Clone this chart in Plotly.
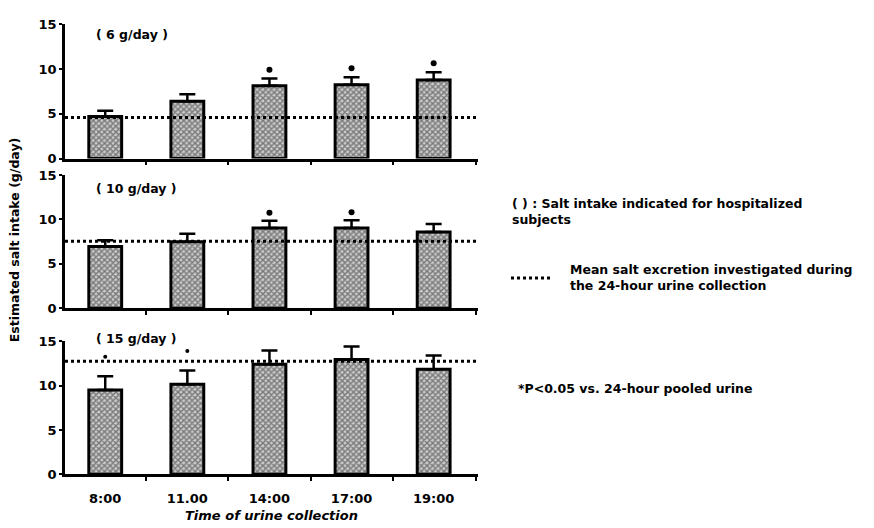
import plotly.graph_objects as go

W, H = 874, 528

times = ["8:00", "11.00", "14:00", "17:00", "19:00"]
panel_labels = ["( 6 g/day )", "( 10 g/day )", "( 15 g/day )"]

means_6 = [4.7, 6.4, 8.15, 8.25, 8.8]
sem_6 = [0.65, 0.8, 0.8, 0.85, 0.85]
mean24_6 = 4.6
sig_6 = [0, 0, 1, 1, 1]

means_10 = [6.95, 7.5, 9.05, 9.05, 8.6]
sem_10 = [0.7, 0.9, 0.8, 0.85, 0.9]
mean24_10 = 7.55
sig_10 = [0, 0, 1, 1, 0]

means_15 = [9.5, 10.15, 12.4, 12.95, 11.85]
sem_15 = [1.55, 1.55, 1.55, 1.45, 1.55]
mean24_15 = 12.75
sig_15 = [1, 1, 0, 0, 0]

yticks = [0, 5, 10, 15]

FONT = "DejaVu Sans"

def px_y(p):
    return 1 - p / H

def px_x(p):
    return p / W

fig = go.Figure()

panels = [
    (means_6, sem_6, mean24_6, sig_6, 18, 156, 1.0, 28),
    (means_10, sem_10, mean24_10, sig_10, 173, 310, 0.9, 187),
    (means_15, sem_15, mean24_15, sig_15, 344, 481, 2.2, 341),
]

xpos = list(range(len(times)))
xr = [-0.49, 4.54]

for i, (m, s, ml, sig, top, bot, off, lab_y) in enumerate(panels):
    n = i + 1
    xa = "x" if n == 1 else f"x{n}"
    ya = "y" if n == 1 else f"y{n}"
    fig.add_trace(go.Bar(
        x=xpos, y=m, width=0.4, xaxis=xa, yaxis=ya,
        marker=dict(
            color="#a0a0a0",
            pattern=dict(shape="x", fgcolor="#262626", bgcolor="#cccccc", size=4, solidity=0.6),
            line=dict(color="black", width=3),
        ),
        error_y=dict(type="data", symmetric=False, array=s, arrayminus=[0] * len(s),
                     color="black", thickness=2.5, width=8),
        showlegend=False,
    ))
    fig.add_trace(go.Scatter(
        x=xr, y=[ml, ml], mode="lines", xaxis=xa, yaxis=ya,
        line=dict(color="black", width=3, dash="dot"), showlegend=False,
    ))
    sx = [x for x, f in zip(xpos, sig) if f]
    sy = [mm + ss + off for mm, ss, f in zip(m, s, sig) if f]
    fig.add_trace(go.Scatter(
        x=sx, y=sy, mode="markers", xaxis=xa, yaxis=ya,
        marker=dict(color="black", size=6 if n < 3 else 4, symbol="circle"),
        showlegend=False,
    ))
    xkey = "xaxis" if n == 1 else f"xaxis{n}"
    ykey = "yaxis" if n == 1 else f"yaxis{n}"
    fig.layout[xkey] = dict(
        domain=[px_x(65), px_x(478)], anchor=ya, range=xr,
        showline=True, linecolor="black", linewidth=2.5,
        showgrid=False, zeroline=False,
        tickmode="array", tickvals=xpos,
        ticktext=times if n == 3 else [""] * len(times),
        ticks="", ticklabelstandoff=10,
        minor=dict(tickmode="array", tickvals=[0.5, 1.5, 2.5, 3.5, 4.52],
                   ticks="outside", ticklen=4, tickwidth=2, tickcolor="black"),
        tickfont=dict(family=FONT, size=13, color="black", weight="bold"),
    )
    fig.layout[ykey] = dict(
        domain=[px_y(bot), px_y(top)], anchor=xa, range=[0, 15],
        showline=True, linecolor="black", linewidth=2.5,
        showgrid=False, zeroline=False,
        tickmode="array", tickvals=yticks, ticks="outside", ticklen=3, tickwidth=2,
        tickcolor="black",
        tickfont=dict(family=FONT, size=13, color="black", weight="bold"),
    )
    fig.add_annotation(
        text=panel_labels[i], xref="paper", yref="paper",
        x=px_x(94), y=px_y(lab_y), xanchor="left", yanchor="middle", showarrow=False,
        font=dict(family=FONT, size=12.5, color="black", weight="bold"),
    )

fig.add_annotation(
    text="Estimated salt intake (g/day)", xref="paper", yref="paper",
    x=px_x(14), y=px_y(240), textangle=-90, showarrow=False,
    xanchor="center", yanchor="middle",
    font=dict(family=FONT, size=12.5, color="black", weight="bold"),
)
fig.add_annotation(
    text="<i>Time of urine collection</i>", xref="paper", yref="paper",
    x=px_x(271), y=0, showarrow=False, xanchor="center", yanchor="bottom",
    yshift=-4, borderpad=0,
    font=dict(family=FONT, size=13, color="black", weight="bold"),
)

right_font = dict(family=FONT, size=12.5, color="black", weight="bold")
fig.add_annotation(
    text="( ) : Salt intake indicated for hospitalized<br>subjects", xref="paper", yref="paper",
    x=px_x(510), y=px_y(210), xanchor="left", yanchor="middle", align="left",
    showarrow=False, font=right_font,
)
fig.add_annotation(
    text="Mean salt excretion investigated during<br>the 24-hour urine collection",
    xref="paper", yref="paper",
    x=px_x(568), y=px_y(278), xanchor="left", yanchor="middle", align="left",
    showarrow=False, font=right_font,
)
fig.add_annotation(
    text="*P<0.05 vs. 24-hour pooled urine", xref="paper", yref="paper",
    x=px_x(516), y=px_y(393), xanchor="left", yanchor="middle", align="left",
    showarrow=False, font=right_font,
)
fig.add_shape(
    type="line", xref="paper", yref="paper",
    x0=px_x(511), x1=px_x(552), y0=px_y(279), y1=px_y(279),
    line=dict(color="black", width=3, dash="dot"),
)

fig.update_layout(
    width=W, height=H,
    margin=dict(l=0, r=0, t=0, b=0),
    paper_bgcolor="white", plot_bgcolor="white",
    barmode="overlay",
)

fig.write_html("out.html")
